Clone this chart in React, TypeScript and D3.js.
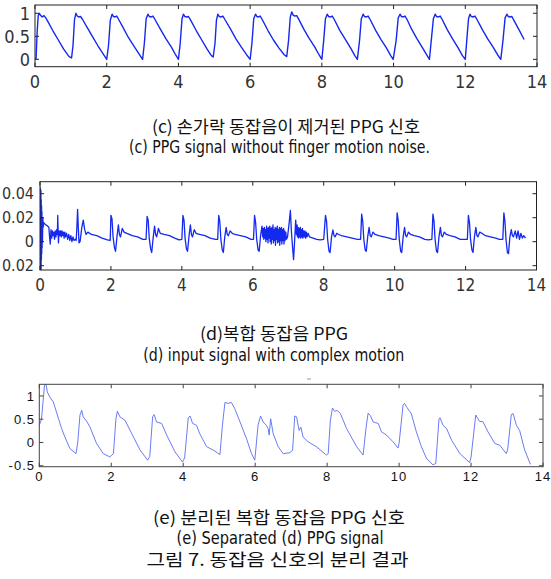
import React from 'react';
import * as d3 from 'd3';

type Pt = [number, number];

const xTicks = [0, 2, 4, 6, 8, 10, 12, 14];
const xTickLabels = ['0', '2', '4', '6', '8', '10', '12', '14'];

const yTicksC = [0, 0.5, 1];
const yLabelsC = ['0', '0.5', '1'];
const yTicksD = [-0.02, 0, 0.02, 0.04];
const yLabelsD = ['0.02', '0', '0.02', '0.04'];
const yTicksE = [-0.5, 0, 0.5, 1];
const yLabelsE = ['-0.5', '0', '0.5', '1'];

const captionC = ['(c) 손가락 동잡음이 제거된 PPG 신호', '(c) PPG signal without finger motion noise.'];
const captionD = ['(d)복합 동잡음 PPG', '(d) input signal with complex motion'];
const captionE = ['(e) 분리된 복합 동잡음 PPG 신호', '(e) Separated (d) PPG signal', '그림 7. 동잡음 신호의 분리 결과'];

// (c) PPG without finger motion noise
const signalC: Pt[] = [
  [0.0, 0.0], [0.03, 0.02], [0.06, 0.6], [0.09, 0.95], [0.12, 1.0], [0.16, 0.95], [0.2, 0.92], [0.25, 0.95], [0.3, 0.9], [0.36, 0.82], [0.5, 0.62], [0.65, 0.42], [0.8, 0.22], [0.95, 0.06], [1.02, 0.03],
  [1.06, 0.3], [1.1, 0.85], [1.14, 1.0], [1.18, 0.94], [1.22, 0.92], [1.27, 0.93], [1.33, 0.86], [1.45, 0.7], [1.6, 0.5], [1.75, 0.3], [1.9, 0.12], [2.0, 0.0],
  [2.05, 0.3], [2.1, 0.85], [2.15, 0.98], [2.19, 0.93], [2.23, 0.92], [2.28, 0.94], [2.33, 0.87], [2.45, 0.7], [2.6, 0.48], [2.75, 0.3], [2.9, 0.12], [3.0, 0.0],
  [3.05, 0.35], [3.1, 0.88], [3.15, 0.98], [3.19, 0.93], [3.24, 0.92], [3.29, 0.94], [3.35, 0.86], [3.5, 0.65], [3.65, 0.45], [3.8, 0.27], [3.92, 0.1], [4.0, 0.0],
  [4.05, 0.35], [4.1, 0.88], [4.14, 0.98], [4.18, 0.93], [4.23, 0.92], [4.28, 0.93], [4.34, 0.85], [4.5, 0.62], [4.65, 0.42], [4.8, 0.22], [4.92, 0.08], [4.97, 0.05],
  [5.02, 0.35], [5.06, 0.85], [5.1, 0.98], [5.14, 0.93], [5.19, 0.92], [5.24, 0.94], [5.3, 0.86], [5.45, 0.66], [5.6, 0.45], [5.75, 0.27], [5.9, 0.1], [6.0, 0.0],
  [6.05, 0.35], [6.1, 0.88], [6.15, 0.98], [6.19, 0.93], [6.23, 0.92], [6.28, 0.94], [6.34, 0.86], [6.5, 0.62], [6.65, 0.42], [6.8, 0.25], [6.95, 0.1], [7.02, 0.06],
  [7.07, 0.4], [7.12, 0.92], [7.16, 1.03], [7.2, 0.96], [7.25, 0.94], [7.3, 0.95], [7.35, 0.88], [7.5, 0.65], [7.65, 0.45], [7.8, 0.27], [7.92, 0.1], [8.0, 0.0],
  [8.05, 0.4], [8.1, 0.88], [8.15, 0.98], [8.19, 0.93], [8.24, 0.92], [8.29, 0.94], [8.35, 0.86], [8.5, 0.63], [8.65, 0.44], [8.8, 0.25], [8.92, 0.08], [8.99, 0.0],
  [9.05, 0.4], [9.1, 0.88], [9.15, 0.98], [9.19, 0.93], [9.24, 0.92], [9.29, 0.94], [9.35, 0.86], [9.5, 0.63], [9.65, 0.43], [9.8, 0.25], [9.92, 0.08], [9.99, 0.0],
  [10.07, 0.4], [10.13, 0.9], [10.18, 0.98], [10.22, 0.93], [10.27, 0.92], [10.32, 0.94], [10.38, 0.86], [10.5, 0.66], [10.65, 0.45], [10.8, 0.26], [10.92, 0.1], [11.0, 0.0],
  [11.05, 0.4], [11.11, 0.88], [11.16, 0.98], [11.2, 0.93], [11.25, 0.92], [11.3, 0.94], [11.36, 0.86], [11.5, 0.64], [11.65, 0.44], [11.8, 0.25], [11.92, 0.08], [12.0, 0.0],
  [12.04, 0.4], [12.09, 0.88], [12.13, 0.98], [12.17, 0.93], [12.22, 0.92], [12.27, 0.94], [12.33, 0.86], [12.48, 0.64], [12.63, 0.44], [12.78, 0.26], [12.9, 0.1], [12.99, 0.0],
  [13.05, 0.4], [13.11, 0.9], [13.16, 0.98], [13.2, 0.93], [13.25, 0.92], [13.3, 0.93], [13.36, 0.84], [13.5, 0.64], [13.64, 0.43],
];

// (d) input signal with complex motion
const signalD: Pt[] = [
  [0.0, 0.0], [0.005, 0.045], [0.01, -0.023], [0.015, 0.04], [0.02, -0.02], [0.025, 0.043], [0.03, -0.024], [0.035, 0.035], [0.04, -0.015], [0.045, 0.03], [0.05, -0.01], [0.055, 0.025], [0.06, -0.005], [0.065, 0.02], [0.07, 0.0], [0.08, 0.02], [0.09, 0.012], [0.1, 0.016],
  [0.13, 0.015], [0.17, 0.014], [0.21, 0.013], [0.25, 0.012], [0.27, 0.004], [0.29, -0.002], [0.31, 0.01], [0.33, 0.003], [0.35, 0.009], [0.37, 0.005], [0.39, 0.008], [0.41, 0.002], [0.43, 0.009], [0.45, 0.004], [0.47, 0.01], [0.49, 0.006], [0.5, 0.022], [0.52, -0.001], [0.54, 0.009], [0.56, 0.005], [0.58, 0.009], [0.6, 0.004], [0.62, 0.009], [0.64, 0.005], [0.66, 0.008], [0.68, 0.003], [0.7, 0.008], [0.72, 0.004], [0.75, 0.007], [0.78, 0.002], [0.81, 0.006], [0.84, 0.001], [0.87, 0.005], [0.9, 0.0], [0.93, 0.004], [0.96, 0.001], [1.0, 0.002],
  [1.02, 0.001], [1.04, 0.012], [1.06, 0.027], [1.08, 0.012], [1.1, -0.001], [1.13, 0.0], [1.18, 0.012], [1.22, 0.018], [1.26, 0.01], [1.3, 0.006], [1.35, 0.008], [1.45, 0.006], [1.6, 0.005], [1.75, 0.003], [1.9, 0.0015], [1.98, 0.001],
  [2.0, 0.022], [2.03, 0.019], [2.06, 0.004], [2.1, -0.005], [2.13, -0.008], [2.17, 0.004], [2.21, 0.014], [2.24, 0.006], [2.27, 0.004], [2.32, 0.011], [2.37, 0.008], [2.45, 0.007], [2.6, 0.005], [2.75, 0.004], [2.9, 0.002], [2.99, 0.002],
  [3.02, 0.021], [3.05, 0.018], [3.08, 0.003], [3.12, -0.006], [3.15, -0.009], [3.19, 0.003], [3.23, 0.013], [3.26, 0.006], [3.29, 0.004], [3.34, 0.011], [3.39, 0.007], [3.5, 0.006], [3.65, 0.005], [3.8, 0.003], [3.92, 0.0015], [4.0, 0.002],
  [4.03, 0.022], [4.06, 0.018], [4.09, 0.003], [4.13, -0.006], [4.16, -0.008], [4.2, 0.004], [4.24, 0.014], [4.27, 0.006], [4.3, 0.004], [4.35, 0.01], [4.4, 0.007], [4.5, 0.006], [4.65, 0.005], [4.8, 0.003], [4.95, 0.002], [5.01, 0.002],
  [5.04, 0.022], [5.07, 0.017], [5.1, 0.002], [5.14, -0.007], [5.17, -0.009], [5.21, 0.004], [5.25, 0.012], [5.28, 0.006], [5.31, 0.005], [5.36, 0.009], [5.42, 0.007], [5.5, 0.006], [5.65, 0.005], [5.8, 0.004], [5.95, 0.002], [6.02, 0.002],
  [6.05, 0.022], [6.08, 0.016], [6.11, 0.002], [6.15, -0.007], [6.18, -0.008], [6.22, 0.005], [6.26, 0.013],
  [6.28, 0.004], [6.3, 0.011], [6.31, 0.002], [6.33, 0.012], [6.34, 0.003], [6.36, 0.01], [6.37, 0.0], [6.39, 0.013], [6.4, 0.002], [6.42, 0.011], [6.43, -0.001], [6.45, 0.012], [6.46, 0.003], [6.48, 0.013], [6.49, 0.0], [6.51, 0.011], [6.52, -0.002], [6.54, 0.012], [6.55, 0.002], [6.57, 0.014], [6.58, -0.001], [6.6, 0.01], [6.61, 0.001], [6.63, 0.012], [6.64, -0.003], [6.66, 0.011], [6.67, 0.002], [6.69, 0.013], [6.7, -0.001], [6.72, 0.01], [6.73, 0.0], [6.75, 0.012], [6.76, -0.003], [6.78, 0.011], [6.79, 0.001], [6.81, 0.012], [6.82, -0.002], [6.84, 0.01], [6.85, 0.001], [6.87, 0.011], [6.88, -0.002], [6.9, 0.009], [6.91, 0.001], [6.93, 0.008], [6.95, 0.002],
  [6.98, 0.004], [7.02, 0.014], [7.06, 0.026], [7.09, 0.008], [7.12, -0.004], [7.15, -0.015], [7.18, 0.001], [7.21, 0.018], [7.23, 0.006], [7.25, 0.014], [7.26, 0.004], [7.28, 0.012], [7.29, 0.003], [7.31, 0.011], [7.32, 0.004], [7.34, 0.012], [7.35, 0.003], [7.37, 0.01], [7.38, 0.004], [7.4, 0.011], [7.41, 0.003], [7.43, 0.009], [7.45, 0.004], [7.47, 0.009], [7.49, 0.003], [7.51, 0.008], [7.53, 0.004], [7.56, 0.007], [7.6, 0.004], [7.7, 0.003], [7.8, 0.002], [7.9, 0.0015], [8.0, 0.002],
  [8.05, 0.022], [8.08, 0.017], [8.11, 0.002], [8.15, -0.008], [8.18, -0.009], [8.22, 0.004], [8.26, 0.0098], [8.29, 0.005], [8.32, 0.004], [8.37, 0.007], [8.42, 0.006], [8.5, 0.005], [8.65, 0.004], [8.8, 0.003], [8.95, 0.002], [9.04, 0.002],
  [9.07, 0.023], [9.1, 0.017], [9.13, 0.002], [9.17, -0.007], [9.2, -0.008], [9.24, 0.004], [9.28, 0.012], [9.31, 0.005], [9.34, 0.004], [9.39, 0.008], [9.45, 0.006], [9.55, 0.005], [9.7, 0.004], [9.85, 0.003], [9.95, 0.002], [10.04, 0.002],
  [10.07, 0.024], [10.1, 0.018], [10.13, 0.002], [10.17, -0.008], [10.2, -0.009], [10.24, 0.004], [10.28, 0.012], [10.31, 0.005], [10.34, 0.004], [10.39, 0.008], [10.45, 0.006], [10.55, 0.005], [10.7, 0.004], [10.85, 0.002], [10.95, 0.0015], [11.05, 0.002],
  [11.08, 0.023], [11.11, 0.017], [11.14, 0.002], [11.18, -0.008], [11.21, -0.009], [11.25, 0.004], [11.29, 0.012], [11.32, 0.005], [11.35, 0.004], [11.4, 0.008], [11.46, 0.006], [11.56, 0.005], [11.7, 0.004], [11.85, 0.002], [11.95, 0.002], [12.05, 0.002],
  [12.08, 0.022], [12.11, 0.016], [12.14, 0.002], [12.18, -0.007], [12.21, -0.009], [12.25, 0.004], [12.29, 0.012], [12.32, 0.005], [12.35, 0.004], [12.4, 0.008], [12.46, 0.007], [12.56, 0.005], [12.7, 0.004], [12.85, 0.003], [12.95, 0.002], [13.05, 0.002],
  [13.08, 0.024], [13.11, 0.017], [13.14, 0.002], [13.18, -0.009], [13.21, -0.01], [13.25, 0.004], [13.29, 0.01], [13.32, 0.005], [13.35, 0.004], [13.4, 0.009], [13.44, 0.003], [13.48, 0.009], [13.52, 0.002], [13.56, 0.007], [13.6, 0.003], [13.64, 0.005], [13.69, 0.003],
];

// (e) separated PPG signal
const signalE: Pt[] = [
  [0.0, 0.37], [0.06, 0.5], [0.14, 1.19], [0.17, 1.3], [0.2, 1.2], [0.22, 1.09], [0.29, 0.98], [0.39, 0.87], [0.53, 0.52], [0.62, 0.3], [0.71, 0.12], [0.85, -0.13], [1.02, -0.24],
  [1.07, 0.01], [1.13, 0.59], [1.18, 0.69], [1.22, 0.55], [1.33, 0.44], [1.41, 0.33], [1.59, -0.02], [1.78, -0.24], [1.96, -0.31],
  [2.06, -0.24], [2.13, 0.51], [2.17, 0.67], [2.24, 0.55], [2.38, 0.48], [2.57, 0.19], [2.8, -0.16], [3.01, -0.38],
  [3.07, -0.3], [3.15, 0.55], [3.19, 0.6], [3.26, 0.44], [3.4, 0.41], [3.54, 0.16], [3.77, -0.2], [3.98, -0.42],
  [4.04, -0.33], [4.14, 0.53], [4.19, 0.57], [4.26, 0.41], [4.37, 0.37], [4.46, 0.19], [4.65, -0.09], [4.83, -0.16], [5.02, -0.26],
  [5.09, 0.37], [5.16, 0.86], [5.25, 0.84], [5.34, 0.86], [5.43, 0.73], [5.58, 0.44], [5.76, 0.08], [5.9, -0.24], [5.99, -0.38],
  [6.08, 0.37], [6.15, 0.57], [6.22, 0.44], [6.31, 0.37], [6.36, 0.3], [6.39, 0.16], [6.43, 0.51], [6.5, 0.19], [6.64, -0.09], [6.78, -0.24], [6.96, -0.22],
  [7.04, -0.17], [7.1, 0.57], [7.15, 0.55], [7.22, 0.26], [7.27, 0.33], [7.33, 0.12], [7.47, 0.016], [7.7, -0.09], [7.98, -0.27],
  [8.03, -0.24], [8.09, 0.48], [8.15, 0.74], [8.21, 0.67], [8.28, 0.69], [8.37, 0.62], [8.54, 0.3], [8.82, -0.09], [9.0, -0.27],
  [9.09, 0.37], [9.14, 0.63], [9.2, 0.58], [9.28, 0.44], [9.42, 0.41], [9.51, 0.23], [9.65, 0.16], [9.83, 0.016], [9.97, -0.12],
  [10.0, -0.02], [10.11, 0.8], [10.15, 0.84], [10.22, 0.75], [10.34, 0.62], [10.48, 0.23], [10.62, -0.09], [10.76, -0.34], [10.94, -0.48],
  [11.02, -0.45], [11.11, 0.51], [11.14, 0.53], [11.22, 0.37], [11.32, 0.3], [11.46, 0.05], [11.69, -0.24], [11.96, -0.43],
  [12.0, -0.32], [12.13, 0.59], [12.19, 0.51], [12.24, 0.45], [12.33, 0.45], [12.47, 0.23], [12.66, -0.02], [12.8, -0.06], [12.98, -0.24],
  [13.02, -0.14], [13.12, 0.6], [13.17, 0.62], [13.26, 0.37], [13.35, 0.26], [13.49, -0.16], [13.65, -0.47],
];

interface Box { left: number; right: number; top: number; bottom: number; }

interface PanelProps {
  id: string;
  box: Box;
  yDomain: [number, number];
  yTicks: number[];
  yLabels: string[];
  data: Pt[];
  color: string;
  strokeWidth: number;
  axisColor: string;
  font: string;
  yFontSize: number;
  xFontSize: number;
  labelColor: string;
  yLabelX: number;
  xLabelDy: number;
  tickLen: number;
  letterSpacing?: number;
}

function Panel(p: PanelProps) {
  const x = d3.scaleLinear().domain([0, 14]).range([p.box.left, p.box.right]);
  const y = d3.scaleLinear().domain(p.yDomain).range([p.box.bottom, p.box.top]);
  const line = d3.line<Pt>().x((d) => x(d[0])).y((d) => y(d[1]));
  const { left, right, top, bottom } = p.box;
  return (
    <g>
      <defs>
        <clipPath id={`clip-${p.id}`}>
          <rect x={left} y={top} width={right - left} height={bottom - top} />
        </clipPath>
      </defs>
      <path d={line(p.data) || ''} fill="none" stroke={p.color} strokeWidth={p.strokeWidth} strokeLinejoin="round" clipPath={`url(#clip-${p.id})`} />
      <rect x={left} y={top} width={right - left} height={bottom - top} fill="none" stroke={p.axisColor} strokeWidth={1} />
      {xTicks.map((t, i) => (
        <g key={`xt${i}`}>
          <line x1={x(t)} x2={x(t)} y1={bottom} y2={bottom - p.tickLen} stroke={p.axisColor} />
          <line x1={x(t)} x2={x(t)} y1={top} y2={top + p.tickLen} stroke={p.axisColor} />
          <text x={x(t)} y={bottom + p.xLabelDy} textAnchor="middle" fontFamily={p.font} fontSize={p.xFontSize} fill={p.labelColor} letterSpacing={p.letterSpacing || 0}>{xTickLabels[i]}</text>
        </g>
      ))}
      {p.yTicks.map((t, i) => (
        <g key={`yt${i}`}>
          <line x1={left} x2={left + p.tickLen} y1={y(t)} y2={y(t)} stroke={p.axisColor} />
          <line x1={right} x2={right - p.tickLen} y1={y(t)} y2={y(t)} stroke={p.axisColor} />
          <text x={p.yLabelX} y={y(t)} dy="0.36em" textAnchor="end" fontFamily={p.font} fontSize={p.yFontSize} fill={p.labelColor} letterSpacing={p.letterSpacing || 0}>{p.yLabels[i]}</text>
        </g>
      ))}
    </g>
  );
}

const narrow = "'Liberation Sans Narrow', 'DejaVu Sans Condensed', 'Liberation Sans', sans-serif";
const korean = "'Noto Sans CJK KR', 'Noto Sans', sans-serif";

function Caption({ text, cx, y, w, font, size }: { text: string; cx: number; y: number; w: number; font: string; size: number }) {
  return (
    <text x={cx - w / 2} y={y} fontFamily={font} fontSize={size} fill="#111" textLength={w} lengthAdjust="spacingAndGlyphs">{text}</text>
  );
}

export default function App() {
  return (
    <svg width={551} height={579} style={{ position: 'absolute', left: 0, top: 0, background: '#fff' }}>
      <rect x={0} y={0} width={551} height={579} fill="#fff" />
      <Panel id="c" box={{ left: 35, right: 537, top: 5, bottom: 66.7 }} yDomain={[-0.16, 1.18]} yTicks={yTicksC} yLabels={yLabelsC}
        data={signalC} color="#1428f0" strokeWidth={1.4} axisColor="#222" font={narrow} yFontSize={18} xFontSize={18} labelColor="#333"
        yLabelX={30} xLabelDy={21} tickLen={4} />
      <Panel id="d" box={{ left: 40, right: 536.5, top: 181.7, bottom: 270 }} yDomain={[-0.0236, 0.05]} yTicks={yTicksD} yLabels={yLabelsD}
        data={signalD} color="#1428f0" strokeWidth={1.3} axisColor="#222" font={narrow} yFontSize={16} xFontSize={17} labelColor="#333"
        yLabelX={34} xLabelDy={21} tickLen={4} />
      <Panel id="e" box={{ left: 39.3, right: 543, top: 384.3, bottom: 466.7 }} yDomain={[-0.52, 1.25]} yTicks={yTicksE} yLabels={yLabelsE}
        data={signalE} color="#5a6cf0" strokeWidth={0.9} axisColor="#444" font="'Liberation Sans', Arial, sans-serif" yFontSize={13} xFontSize={13} labelColor="#111"
        yLabelX={35} xLabelDy={14} tickLen={4} letterSpacing={1} />
      <line x1={307} x2={311} y1={379} y2={379} stroke="#999" strokeWidth={1} />
      <Caption text={captionC[0]} cx={286} y={133} w={268} font={korean} size={17} />
      <Caption text={captionC[1]} cx={279.5} y={153} w={301} font={narrow} size={17} />
      <Caption text={captionD[0]} cx={274} y={340} w={148} font={korean} size={17} />
      <Caption text={captionD[1]} cx={273.7} y={361} w={261} font={narrow} size={17} />
      <Caption text={captionE[0]} cx={279} y={524} w={252} font={korean} size={17} />
      <Caption text={captionE[1]} cx={280} y={544} w={207} font={narrow} size={17} />
      <Caption text={captionE[2]} cx={277.5} y={566} w={262} font={korean} size={17} />
    </svg>
  );
}
